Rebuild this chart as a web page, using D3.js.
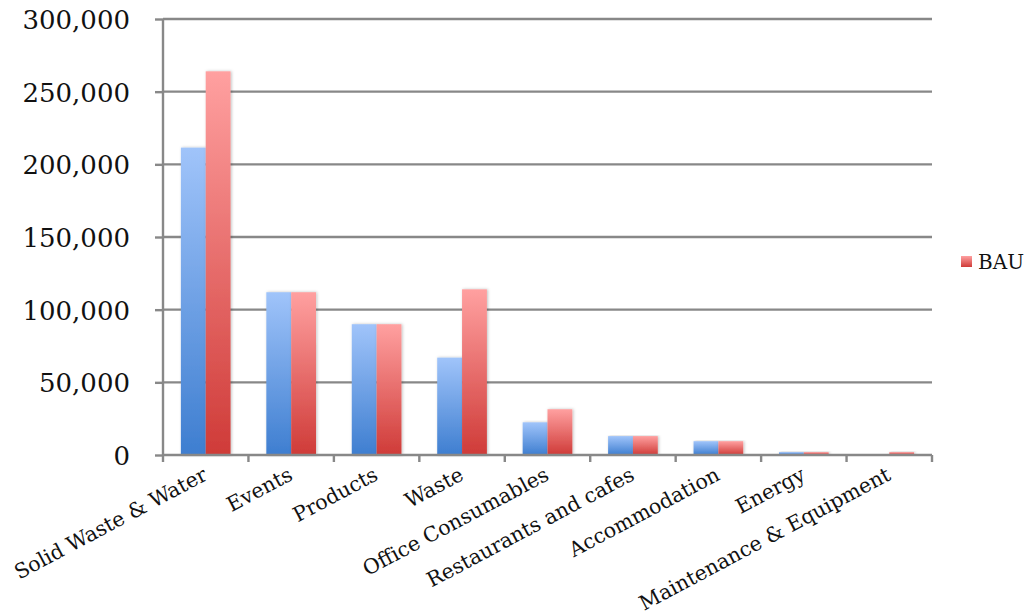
<!DOCTYPE html>
<html>
<head>
<meta charset="utf-8">
<script src="https://cdn.jsdelivr.net/npm/d3@7"></script>
<style>
  html, body { margin: 0; padding: 0; background: #fff; }
  svg { display: block; }
</style>
</head>
<body>
<svg id="chart" width="1034" height="615"></svg>
<script>
const categories = ["Solid Waste & Water", "Events", "Products", "Waste", "Office Consumables",
  "Restaurants and cafes", "Accommodation", "Energy", "Maintenance & Equipment"];
const seriesNames = ["Scenario", "BAU"];
const scenarioValues = [211500, 112000, 90000, 67000, 22500, 13000, 9500, 2000, 0];
const bauValues = [264000, 112000, 90000, 114000, 31500, 13000, 9500, 2000, 2000];
const yTicks = [0, 50000, 100000, 150000, 200000, 250000, 300000];

const svg = d3.select("#chart");

const x = d3.scaleBand().domain(categories).range([163, 932]).paddingInner(0).paddingOuter(0);
const x1 = d3.scaleBand().domain(seriesNames).range([0, x.bandwidth()]).paddingInner(0).paddingOuter(0.72);
const y = d3.scaleLinear().domain([0, 300000]).range([455, 19]);

const defs = svg.append("defs");
const grads = {
  Scenario: ["#a0c4fa", "#3e7ed0"],
  BAU: ["#ffa0a0", "#cf3b38"]
};
Object.entries(grads).forEach(([k, c]) => {
  const g = defs.append("linearGradient").attr("id", "g-" + k)
    .attr("x1", 0).attr("y1", 0).attr("x2", 0).attr("y2", 1);
  g.append("stop").attr("offset", "0%").attr("stop-color", c[0]);
  g.append("stop").attr("offset", "100%").attr("stop-color", c[1]);
});
const f = defs.append("filter").attr("id", "shadow").attr("x", "-20%").attr("y", "-5%").attr("width", "140%").attr("height", "110%");
f.append("feDropShadow").attr("dx", 1).attr("dy", 0).attr("stdDeviation", 1.5).attr("flood-color", "#000").attr("flood-opacity", 0.25);

// gridlines
svg.append("g")
  .selectAll("line").data(yTicks.filter(d => d > 0)).join("line")
  .attr("x1", 163).attr("x2", 932)
  .attr("y1", d => y(d)).attr("y2", d => y(d))
  .attr("stroke", "#888").attr("stroke-width", 2.4);

// bars
const data = categories.map((c, i) => ({c, vals: [
  {s: "Scenario", v: scenarioValues[i]},
  {s: "BAU", v: bauValues[i]}
]}));
const groups = svg.append("g").selectAll("g").data(data).join("g")
  .attr("transform", d => `translate(${x(d.c)},0)`);
groups.selectAll("rect").data(d => d.vals.filter(e => e.v > 0)).join("rect")
  .attr("x", d => x1(d.s))
  .attr("width", x1.bandwidth())
  .attr("y", d => y(d.v))
  .attr("height", d => y(0) - y(d.v))
  .attr("fill", d => `url(#g-${d.s})`)
  .attr("filter", "url(#shadow)");

// y axis
const yAxis = svg.append("g").attr("transform", "translate(163,0)")
  .call(d3.axisLeft(y).tickValues(yTicks).tickSize(8).tickPadding(25)
    .tickFormat(d3.format(",")));
yAxis.select(".domain").attr("stroke", "#888").attr("stroke-width", 2.4)
  .attr("d", `M0,${y(300000)}V${y(0)}`);
yAxis.selectAll(".tick line").attr("stroke", "#888").attr("stroke-width", 2.4);
yAxis.selectAll(".tick text")
  .attr("font-family", "'DejaVu Serif', serif").attr("font-size", 26).attr("fill", "#111")
  .attr("dy", "0.36em");

// x axis
const xAxis = svg.append("g").attr("transform", "translate(0,455)")
  .call(d3.axisBottom(x).tickSize(0).tickFormat(d => d));
xAxis.select(".domain").attr("stroke", "#888").attr("stroke-width", 2.4)
  .attr("d", "M163,0H932");
xAxis.selectAll(".tick text")
  .attr("font-family", "'DejaVu Serif', serif").attr("font-size", 20.5).attr("fill", "#111")
  .attr("text-anchor", "end")
  .attr("transform", "translate(-2,15) rotate(-28)")
  .attr("dy", "0.5em").attr("y", 0);
// band boundary ticks
xAxis.append("g").selectAll("line")
  .data(categories.map(c => x(c)).concat([x.range()[1]])).join("line")
  .attr("x1", d => d).attr("x2", d => d).attr("y1", 0).attr("y2", 7)
  .attr("stroke", "#888").attr("stroke-width", 2.4);

// legend (only BAU shown)
const lg = svg.append("g").attr("transform", "translate(961,256)");
lg.append("rect").attr("width", 11).attr("height", 11).attr("fill", "url(#g-BAU)");
lg.append("text").attr("x", 17).attr("y", 5.5).attr("dy", "0.36em")
  .attr("font-family", "'DejaVu Serif', serif").attr("font-size", 20).attr("fill", "#111")
  .text("BAU");
</script>
</body>
</html>
